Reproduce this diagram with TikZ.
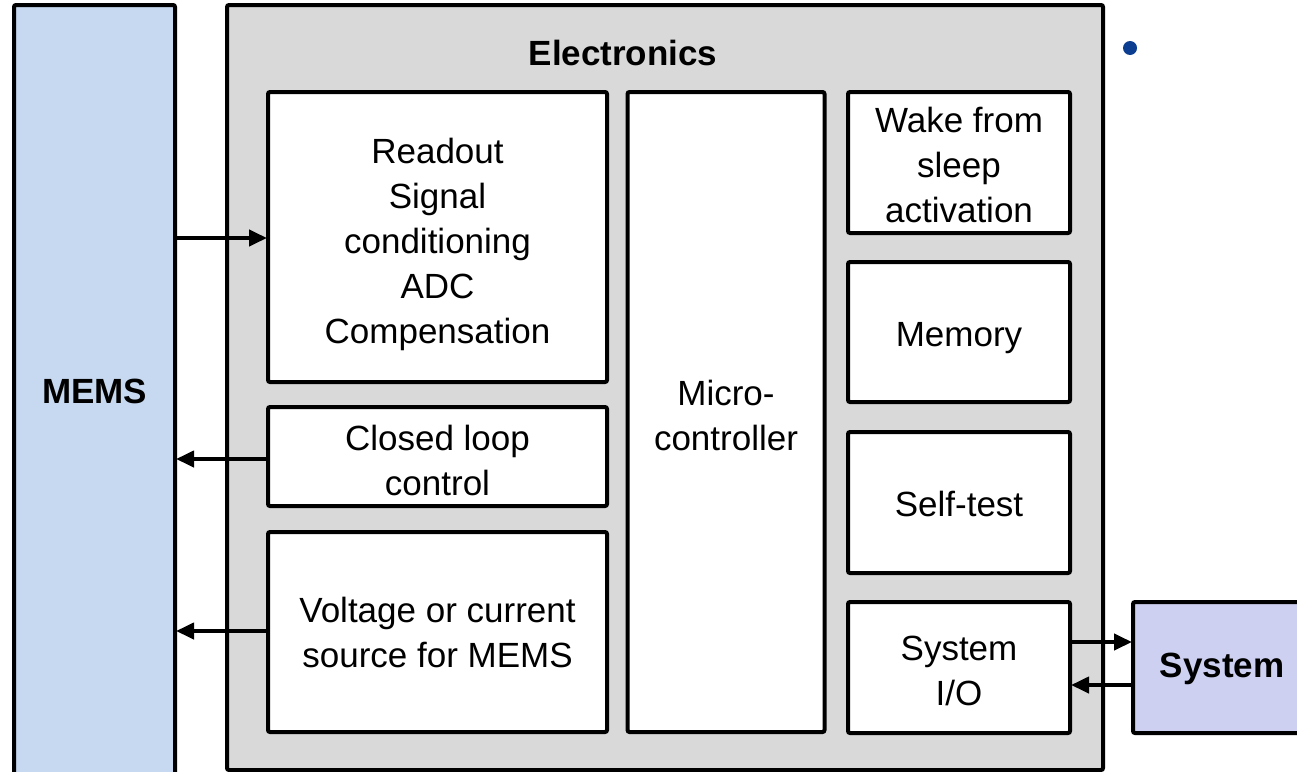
\documentclass[tikz,border=0pt]{standalone}
\usepackage{fontspec}
\setmainfont{Liberation Sans}
\usetikzlibrary{arrows.meta,calc}
\definecolor{memsblue}{HTML}{C6D9F0}
\definecolor{elecgray}{HTML}{D9D9D9}
\definecolor{syslav}{HTML}{CDD0F0}
\definecolor{dotblue}{HTML}{0B3D91}
\tikzset{
  frame/.style={draw=black, line width=4pt, rounded corners=2pt, inner sep=0pt},
  blockbox/.style={frame, fill=white},
  blocktext/.style={align=center, inner sep=0pt, font=\fontsize{35}{45}\selectfont},
  headtext/.style={inner sep=0pt, font=\bfseries\fontsize{35}{45}\selectfont},
  arr/.style={line width=4pt, -{Triangle[length=18pt,width=16pt]}, shorten >=-1pt}
}
\begin{document}
\begin{tikzpicture}[x=1pt,y=-1pt]
\useasboundingbox (0,0) rectangle (1297,771);
% outer blocks
\node[frame, fill=memsblue, minimum width=161pt, minimum height=775pt] (mems) at (94.5,392.5) {};
\node[headtext] (memslbl) at (94.5,391) {MEMS};
\node[frame, fill=elecgray, minimum width=876pt, minimum height=765pt] (elec) at (665,387.5) {};
\node[headtext] (eleclbl) at (623,53) {Electronics};
\node[frame, fill=syslav, minimum width=200pt, minimum height=131pt] (sys) at (1233,667.5) {};
\node[headtext] (syslbl) at (1222,669) {System};
% blocks inside the electronics
\node[blockbox, minimum width=339pt, minimum height=290pt] (readout) at (437.5,237) {};
\node[blockbox, minimum width=339pt, minimum height=99pt] (loop) at (437.5,456.5) {};
\node[blockbox, minimum width=339pt, minimum height=200pt] (vsrc) at (437.5,632) {};
\node[blockbox, minimum width=197pt, minimum height=640pt] (mcu) at (726,412) {};
\node[blockbox, minimum width=222pt, minimum height=141pt] (wake) at (959,162.5) {};
\node[blockbox, minimum width=222pt, minimum height=140pt] (mem) at (959,332) {};
\node[blockbox, minimum width=222pt, minimum height=141pt] (self) at (959,502.5) {};
\node[blockbox, minimum width=222pt, minimum height=131pt] (io) at (959,667.5) {};
% their texts
\node[blocktext] (readoutt) at ($(readout.center)+(0,7)$)
  {Readout\\Signal\\conditioning\\ADC\\Compensation};
\node[blocktext] (loopt) at ($(loop.center)+(0,4)$) {Closed loop\\control};
\node[blocktext] (vsrct) at (vsrc.center) {Voltage or current\\source for MEMS};
\node[blocktext] (mcut) at ($(mcu.center)+(0,3)$) {Micro-\\controller};
\node[blocktext] (waket) at ($(wake.center)+(0,2)$) {Wake from\\sleep\\activation};
\node[blocktext] (memt) at ($(mem.center)+(0,6)$) {Memory};
\node[blocktext] (selft) at ($(self.center)+(0,1)$) {Self-test};
\node[blocktext] (iot) at ($(io.center)+(0,3)$) {System\\I/O};
% bullet mark
\fill[dotblue] (1130,48) circle (7pt);
% connectors
\draw[arr] (mems.east |- 0,238) -- (readout.west |- 0,238);
\draw[arr] (loop.west |- 0,459) -- (mems.east |- 0,459);
\draw[arr] (vsrc.west |- 0,631) -- (mems.east |- 0,631);
\coordinate (ioout) at ($(io.east)+(0,-25.5)$);
\coordinate (ioin) at ($(io.east)+(0,17.5)$);
\draw[arr] (ioout) -- (ioout -| sys.west);
\draw[arr] (ioin -| sys.west) -- (ioin);
\end{tikzpicture}
\end{document}
